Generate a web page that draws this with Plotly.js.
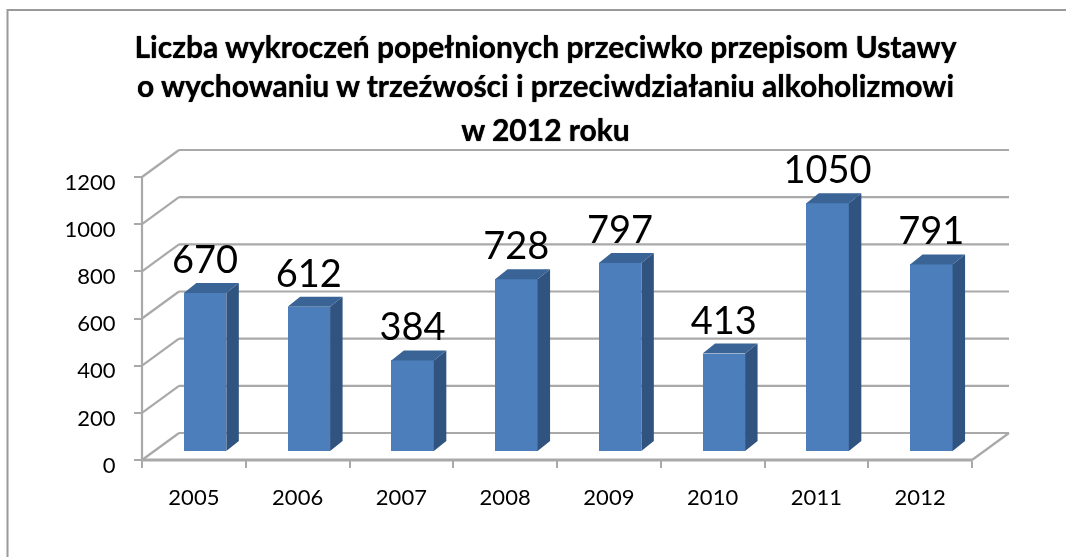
<!DOCTYPE html>
<html>
<head>
<meta charset="utf-8">
<script src="https://cdn.plot.ly/plotly-3.0.1.min.js"></script>
<style>
html,body{margin:0;padding:0;background:#fff;overflow:hidden}
#chart{width:1066px;height:557px;filter:blur(0.55px)}
</style>
</head>
<body>
<div id="chart"></div>
<script>
const categories = ['2005','2006','2007','2008','2009','2010','2011','2012'];
const values = [670,612,384,728,797,413,1050,791];
const yTicks = [0,200,400,600,800,1000,1200];
const titleLines = [
  'Liczba wykroczeń popełnionych przeciwko przepisom Ustawy',
  'o wychowaniu w trzeźwości i przeciwdziałaniu alkoholizmowi',
  'w 2012 roku'
];

const W = 1066, H = 557;
const originX = 142, originY = 460, slotPx = 103.75, unitPx = 283 / 1200;
const xRange = [-0.12, 8.5], yRange = [-40, 1340];
const wallDx = 37 / slotPx, wallDy = 27 / unitPx;
const barOffset = 0.608, barWidth = 42.5 / slotPx, barBase = 9 / unitPx;
const barDx = 12.5 / slotPx, barDy = 10 / unitPx;
const labelLift = 0.5 / unitPx;
const GRID = '#a9a9a9';

const xp = v => originX + v * slotPx, yp = v => originY - v * unitPx;
const xDomain = [xp(xRange[0]) / W, xp(xRange[1]) / W];
const yDomain = [(H - yp(yRange[0])) / H, (H - yp(yRange[1])) / H];

const seg = (x0, y0, x1, y1, color, width) => ({
  type: 'line', xref: 'x', yref: 'y', x0, y0, x1, y1, layer: 'below',
  line: {color: color || GRID, width: width || 2.2}
});
const nSlots = categories.length;
const shapes = [];
yTicks.forEach(t => {
  shapes.push(seg(0, t, wallDx, t + wallDy));
  shapes.push(seg(wallDx, t + wallDy, nSlots + wallDx, t + wallDy));
});
shapes.push(seg(0, 0, 0, yTicks[yTicks.length - 1]));
shapes.push(seg(0, 0, nSlots, 0, '#a9a9a9', 2.8));
shapes.push(seg(nSlots, 0, nSlots + wallDx, wallDy));
shapes.push({
  type: 'path', xref: 'paper', yref: 'paper', layer: 'below',
  path: `M ${7.5 / W} 0 L ${7.5 / W} ${(H - 10) / H} L 1 ${(H - 10) / H}`,
  line: {color: '#9a9a9a', width: 2}
});

const xs = values.map((_, i) => i + barOffset);
const sideFace = {x: [], y: []}, topFace = {x: [], y: []};
values.forEach((v, i) => {
  const r = xs[i] + barWidth / 2, l = xs[i] - barWidth / 2, t = v + barBase;
  sideFace.x.push(r, r + barDx, r + barDx, r, r, null);
  sideFace.y.push(barBase, barBase + barDy, t + barDy, t, barBase, null);
  topFace.x.push(l, l + barDx, r + barDx, r, l, null);
  topFace.y.push(t, t + barDy, t + barDy, t, t, null);
});
const face = (p, color) => ({
  type: 'scatter', mode: 'lines', x: p.x, y: p.y, fill: 'toself', fillcolor: color,
  line: {width: 0, color: color}, hoverinfo: 'skip', showlegend: false
});

const traces = [
  {type: 'bar', x: xs, y: values, base: barBase, width: barWidth,
   marker: {color: '#4c7ebb', line: {width: 0}}, showlegend: false, hoverinfo: 'skip'},
  face(sideFace, '#30537f'),
  face(topFace, '#3a6495'),
  {type: 'scatter', mode: 'text', x: xs, y: values.map(v => v + barBase + barDy + labelLift),
   text: values.map(String), textposition: 'top center', cliponaxis: false,
   textfont: {family: 'Lato', size: 38, color: '#000'}, showlegend: false, hoverinfo: 'skip'}
];

const layout = {
  width: W, height: H, autosize: false,
  paper_bgcolor: '#fff', plot_bgcolor: 'rgba(0,0,0,0)', showlegend: false,
  margin: {l: 0, r: 0, t: 0, b: 0, pad: 0},
  font: {family: 'Lato', color: '#000'},
  title: {
    text: titleLines.join('<br>'),
    font: {family: 'Lato', size: 30, weight: 'bold', color: '#000', shadow: '0 0 1px #000'},
    x: 545.5 / W, xanchor: 'center', y: 1 - 58 / H, yanchor: 'top', pad: {t: 0, b: 0, l: 0, r: 0},
    automargin: false
  },
  bargap: 0,
  xaxis: {
    type: 'linear', range: xRange, domain: xDomain, anchor: 'free', position: (H - originY) / H,
    tickmode: 'array', tickvals: categories.map((_, i) => i + 0.5), ticktext: categories,
    ticks: 'outside', ticklen: 18, tickcolor: 'rgba(0,0,0,0)', tickwidth: 0,
    tickfont: {family: 'Lato', size: 22, color: '#000'},
    showgrid: false, zeroline: false, showline: false, fixedrange: true,
    minor: {tickmode: 'array', tickvals: categories.map((_, i) => i).concat(nSlots),
            ticks: 'outside', ticklen: 7, tickwidth: 2, tickcolor: GRID, showgrid: false}
  },
  yaxis: {
    type: 'linear', range: yRange, domain: yDomain, anchor: 'free', position: originX / W,
    tickmode: 'array', tickvals: yTicks, ticktext: yTicks.map(String),
    ticks: 'outside', ticklen: 8, tickwidth: 2, tickcolor: GRID,
    ticklabelstandoff: 14, ticklabelshift: 5,
    tickfont: {family: 'Lato', size: 22, color: '#000'},
    showgrid: false, zeroline: false, showline: false, fixedrange: true
  },
  shapes
};

const lineSteps = [0, 1.31, 2.77];
Plotly.newPlot('chart', traces, layout, {staticPlot: true, displayModeBar: false}).then(() => {
  document.querySelectorAll('.gtitle tspan.line').forEach((t, i) => {
    if (i > 0) t.setAttribute('dy', lineSteps[i] + 'em');
  });
});
</script>
</body>
</html>
